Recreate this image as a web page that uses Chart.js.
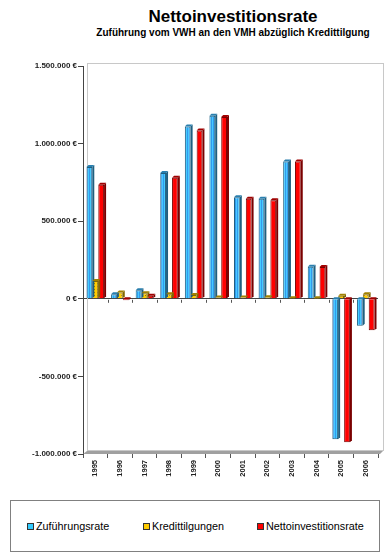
<!DOCTYPE html>
<html>
<head>
<meta charset="utf-8">
<script src="https://cdn.jsdelivr.net/npm/chart.js@4.4.0/dist/chart.umd.min.js"></script>
<style>
  body { margin: 0; background: #fff; font-family: Arial, "Liberation Sans", sans-serif; }
  #wrap { position: relative; width: 389px; height: 557px; overflow: hidden; }
  #title { position: absolute; left: 233px; top: 7px; transform: translateX(-50%); white-space: nowrap;
           font-weight: bold; font-size: 17px; color: #000; }
  #subtitle { position: absolute; left: 233px; top: 27px; transform: translateX(-50%); white-space: nowrap;
              font-weight: bold; font-size: 10px; color: #000; }
  #chartBox { position: absolute; left: 0; top: 0; }
  #legend { position: absolute; left: 10px; top: 500px; width: 370px; height: 52px; border: 1px solid #808080; box-sizing: border-box; }
  .item { position: absolute; top: 19px; font-size: 10.8px; color: #000; white-space: nowrap; }
  .sw { display: inline-block; width: 5px; height: 5px; border: 1px solid #333; margin-right: 2px; vertical-align: 0px; }
</style>
</head>
<body>
<div id="wrap">
  <div id="title">Nettoinvestitionsrate</div>
  <div id="subtitle">Zuführung vom VWH an den VMH abzüglich Kredittilgung</div>
  <div id="chartBox"><canvas id="c" width="389" height="495"></canvas></div>
  <div id="legend">
    <div class="item" style="left:16px"><span class="sw" style="background:#33ccff"></span>Zuführungsrate</div>
    <div class="item" style="left:132px"><span class="sw" style="background:#ffcc00"></span>Kredittilgungen</div>
    <div class="item" style="left:246px"><span class="sw" style="background:#ff0000"></span>Nettoinvestitionsrate</div>
  </div>
</div>
<script>
// Jahre und Werte (in Euro)
const jahre = ['1995','1996','1997','1998','1999','2000','2001','2002','2003','2004','2005','2006'];
const zufuehrungsrate = [850000, 30000, 55000, 810000, 1110000, 1180000, 654000, 645000, 885000, 207000, -905000, -173000];
const kredittilgungen = [115000, 40000, 35000, 30000, 25000, 8000, 9000, 10000, 2000, 1000, 20000, 30000];
const nettoinvestitionsrate = [735000, -10000, 20000, 780000, 1085000, 1172000, 645000, 635000, 885000, 205000, -925000, -203000];
const yTicks = [-1000000, -500000, 0, 500000, 1000000, 1500000];

function euro(v) {
  return String(v).replace(/\B(?=(\d{3})+(?!\d))/g, '.') + ' €';
}

// kleine Muster für die Balken
function muster(w, h, bg, fn) {
  const c = document.createElement('canvas');
  c.width = w; c.height = h;
  const g = c.getContext('2d');
  g.fillStyle = bg; g.fillRect(0, 0, w, h);
  fn(g);
  return g.createPattern(c, 'repeat');
}
const ctx = document.getElementById('c').getContext('2d');
const blau = muster(2, 1, '#44ccff', g => { g.fillStyle = '#3399ee'; g.fillRect(1, 0, 1, 1); });
const gelb = muster(3, 3, '#ffcc00', g => { g.fillStyle = '#997700'; g.fillRect(1, 1, 1, 1); });

const tiefe = 2;

// Rückwand, Boden und 3D-Seiten der Balken
const dreiD = {
  id: 'dreiD',
  beforeDatasetsDraw(chart) {
    const a = chart.chartArea, g = chart.ctx;
    g.save();
    g.strokeStyle = '#c8c8c8';
    g.lineWidth = 1;
    g.strokeRect(a.left + 4.5, a.top - 2.5, a.width + 1, a.height - 1);
    g.fillStyle = '#a0a0a0';
    g.beginPath();
    g.moveTo(a.left, a.bottom);
    g.lineTo(a.left + 4, a.bottom - 3);
    g.lineTo(a.right + 5, a.bottom - 3);
    g.lineTo(a.right + 2, a.bottom);
    g.closePath();
    g.fill();
    // kleine Striche unter der Nulllinie
    const y0 = chart.scales.y.getPixelForValue(0);
    const xs = chart.scales.x;
    g.strokeStyle = '#555';
    for (let i = 1; i < jahre.length; i++) {
      const x = Math.round((xs.getPixelForValue(i - 1) + xs.getPixelForValue(i)) / 2) + 0.5;
      g.beginPath(); g.moveTo(x, y0 + 1); g.lineTo(x, y0 + 4); g.stroke();
    }
    g.restore();
  },
  afterDatasetsDraw(chart) {
    const g = chart.ctx;
    const seiten = ['#1f5f80', '#806600', '#7a0000'];
    const deckel = ['#2a7fae', '#a08000', '#a00000'];
    g.save();
    chart.data.datasets.forEach((ds, i) => {
      chart.getDatasetMeta(i).data.forEach(bar => {
        const p = bar.getProps(['x', 'y', 'base', 'width'], true);
        const l = p.x - p.width / 2, r = p.x + p.width / 2;
        const top = Math.min(p.y, p.base), bot = Math.max(p.y, p.base);
        g.fillStyle = seiten[i];
        g.beginPath();
        g.moveTo(r, top); g.lineTo(r + tiefe, top - tiefe); g.lineTo(r + tiefe, bot - tiefe); g.lineTo(r, bot);
        g.closePath(); g.fill();
        g.fillStyle = deckel[i];
        g.beginPath();
        g.moveTo(l, top); g.lineTo(l + tiefe, top - tiefe); g.lineTo(r + tiefe, top - tiefe); g.lineTo(r, top);
        g.closePath(); g.fill();
      });
    });
    g.restore();
  }
};

new Chart(ctx, {
  type: 'bar',
  data: {
    labels: jahre,
    datasets: [
      { label: 'Zuführungsrate', data: zufuehrungsrate, backgroundColor: blau, borderColor: '#1f5f80', borderWidth: 1 },
      { label: 'Kredittilgungen', data: kredittilgungen, backgroundColor: gelb, borderColor: '#806600', borderWidth: 1 },
      { label: 'Nettoinvestitionsrate', data: nettoinvestitionsrate, backgroundColor: '#ff0000', borderColor: '#7a0000', borderWidth: 1 }
    ]
  },
  options: {
    responsive: false,
    animation: false,
    layout: { padding: { top: 66, right: 11, left: 0, bottom: 0 } },
    datasets: { bar: { categoryPercentage: 0.72, barPercentage: 0.98 } },
    plugins: { legend: { display: false }, tooltip: { enabled: false }, title: { display: false } },
    scales: {
      x: {
        grid: { drawOnChartArea: false, drawTicks: true, tickLength: 4, color: '#555', offset: true },
        border: { display: false },
        ticks: { minRotation: 90, maxRotation: 90, padding: 2, color: '#222',
                 font: { family: 'Arial', size: 7.5, weight: 'bold' } },
        afterFit(scale) { scale.height = 41; }
      },
      y: {
        min: -1000000, max: 1500000,
        afterBuildTicks(scale) { scale.ticks = yTicks.map(v => ({ value: v })); },
        grid: { color: c => (c.tick && c.tick.value === 0 ? '#444' : 'rgba(0,0,0,0)'),
                tickColor: '#444', tickLength: 5 },
        border: { color: '#444' },
        ticks: { callback: v => euro(v), padding: 1, color: '#222',
                 font: { family: 'Arial', size: 8, weight: 'bold' } },
        afterFit(scale) { scale.width = 83; }
      }
    }
  },
  plugins: [dreiD]
});
</script>
</body>
</html>
